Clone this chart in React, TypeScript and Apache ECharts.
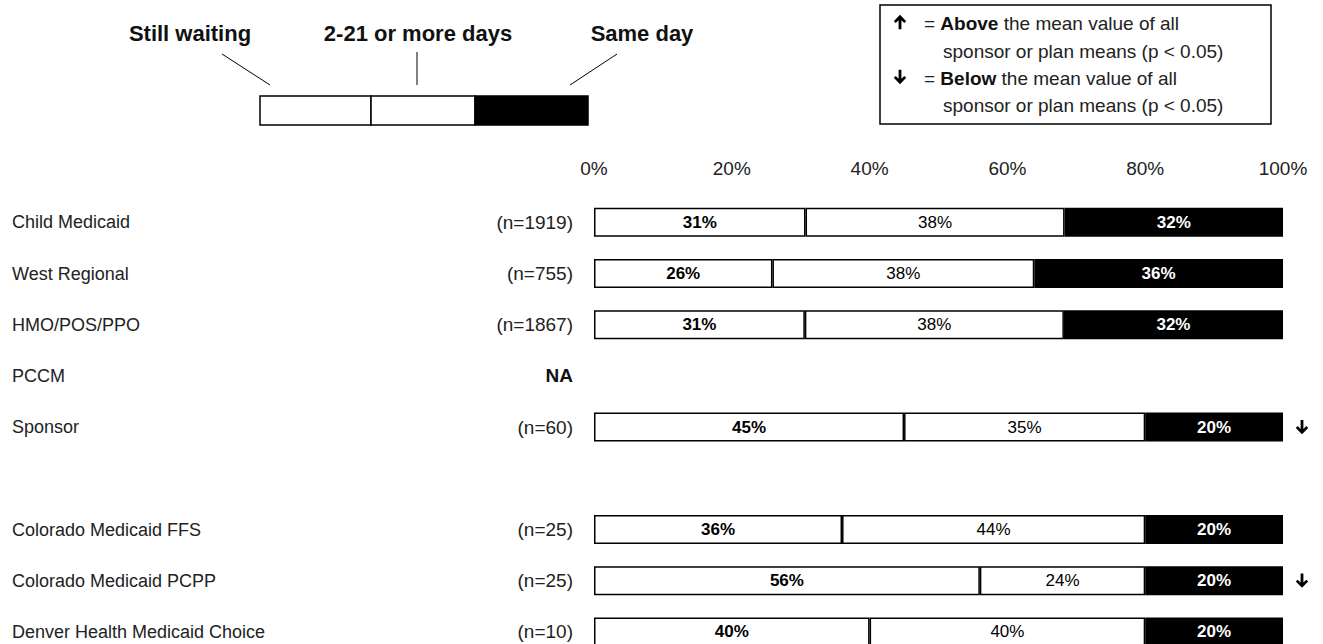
import React, { useEffect, useRef } from "react";
import * as echarts from "echarts";

const categories = [
  "Child Medicaid",
  "West Regional",
  "HMO/POS/PPO",
  "PCCM",
  "Sponsor",
  "",
  "Colorado Medicaid FFS",
  "Colorado Medicaid PCPP",
  "Denver Health Medicaid Choice",
];
const sampleSizes = ["(n=1919)", "(n=755)", "(n=1867)", "NA", "(n=60)", "", "(n=25)", "(n=25)", "(n=10)"];
const stillWaiting = [30.7, 25.9, 30.6, null, 45, null, 36, 56, 40];
const twoTo21Days = [37.6, 38.0, 37.6, null, 35, null, 44, 24, 40];
const sameDay = [31.7, 36.1, 31.8, null, 20, null, 20, 20, 20];
const significance = ["", "", "", "", "below", "", "", "below", ""];
const seriesNames = ["Still waiting", "2-21 or more days", "Same day"];
const xTickValues = [0, 20, 40, 60, 80, 100];

const FONT = "'Liberation Sans', Arial, sans-serif";

// heavy down arrow, 12 wide x 14.3 tall, origin at top-left
const ARROW_PATH = "M4.6 0 L7.4 0 L7.4 9 L10.3 6.1 L12.2 8 L6 14.3 L-0.2 8 L1.7 6.1 L4.6 9 Z";
let registered = false;

export default function App() {
  const ref = useRef<HTMLDivElement>(null);
  useEffect(() => {
    if (!ref.current) return;
    if (!registered) {
      echarts.graphic.registerShape("sigArrow", echarts.graphic.extendPath(ARROW_PATH, {}) as any);
      registered = true;
    }
    const chart = echarts.init(ref.current, null, { renderer: "svg" });
    const pct = (p: any) => (p.value == null ? "" : Math.round(p.value) + "%");
    const mkSeries = (name: string, data: any[], color: string, labelColor: string, weight: string) => ({
      name,
      type: "bar",
      stack: "total",
      data,
      barWidth: 29,
      xAxisIndex: 0,
      yAxisIndex: 0,
      itemStyle: { color, borderColor: "#000", borderWidth: 1.5 },
      label: {
        show: true,
        position: "inside",
        formatter: pct,
        color: labelColor,
        fontFamily: FONT,
        fontSize: 17,
        fontWeight: weight,
      },
    });
    const arrow = (cx: number, cy: number, up: boolean) => ({
      type: "sigArrow",
      x: cx - 6,
      y: up ? cy + 7.15 : cy - 7.15,
      scaleX: 1,
      scaleY: up ? -1 : 1,
      style: { fill: "#000", stroke: null },
    });
    const baseGraphics: any[] = [
      // top-left key
      { type: "text", style: { text: seriesNames[0], x: 190, y: 33, align: "center", verticalAlign: "middle", font: `bold 22px ${FONT}`, fill: "#111" } },
      { type: "text", style: { text: seriesNames[1], x: 418, y: 33, align: "center", verticalAlign: "middle", font: `bold 22px ${FONT}`, fill: "#111" } },
      { type: "text", style: { text: seriesNames[2], x: 642, y: 33, align: "center", verticalAlign: "middle", font: `bold 22px ${FONT}`, fill: "#111" } },
      { type: "line", shape: { x1: 222, y1: 54, x2: 270, y2: 85 }, style: { stroke: "#000", lineWidth: 1 } },
      { type: "line", shape: { x1: 417, y1: 52, x2: 417, y2: 85 }, style: { stroke: "#000", lineWidth: 1 } },
      { type: "line", shape: { x1: 617, y1: 54, x2: 570, y2: 85 }, style: { stroke: "#000", lineWidth: 1 } },
      { type: "rect", shape: { x: 260, y: 96, width: 111, height: 29 }, style: { fill: "#fff", stroke: "#000", lineWidth: 1.5 } },
      { type: "rect", shape: { x: 371, y: 96, width: 104, height: 29 }, style: { fill: "#fff", stroke: "#000", lineWidth: 1.5 } },
      { type: "rect", shape: { x: 475, y: 96, width: 113, height: 29 }, style: { fill: "#000", stroke: "#000", lineWidth: 1.5 } },
      // right significance box
      { type: "rect", shape: { x: 880, y: 5, width: 391, height: 119 }, style: { fill: "#fff", stroke: "#000", lineWidth: 1.5 } },
      arrow(900, 22, true),
      arrow(900, 77, false),
      {
        type: "text",
        style: {
          text: "= {b|Above} the mean value of all",
          x: 924, y: 23, verticalAlign: "middle", font: `19px ${FONT}`, fill: "#222",
          rich: { b: { fontWeight: "bold", fontSize: 19, fontFamily: FONT, fill: "#111" } },
        },
      },
      { type: "text", style: { text: "sponsor or plan means (p < 0.05)", x: 943, y: 51, verticalAlign: "middle", font: `19px ${FONT}`, fill: "#222" } },
      {
        type: "text",
        style: {
          text: "= {b|Below} the mean value of all",
          x: 924, y: 78, verticalAlign: "middle", font: `19px ${FONT}`, fill: "#222",
          rich: { b: { fontWeight: "bold", fontSize: 19, fontFamily: FONT, fill: "#111" } },
        },
      },
      { type: "text", style: { text: "sponsor or plan means (p < 0.05)", x: 943, y: 105, verticalAlign: "middle", font: `19px ${FONT}`, fill: "#222" } },
    ];
    chart.setOption({
      animation: false,
      backgroundColor: "#fff",
      grid: { left: 594, width: 689, top: 196.7, height: 460.8 },
      xAxis: {
        type: "value",
        position: "top",
        min: xTickValues[0],
        max: xTickValues[xTickValues.length - 1],
        interval: xTickValues[1] - xTickValues[0],
        axisLine: { show: false },
        axisTick: { show: false },
        splitLine: { show: false },
        axisLabel: {
          formatter: "{value}%",
          fontFamily: FONT,
          fontSize: 19,
          color: "#222",
          margin: 19,
        },
      },
      yAxis: [
        {
          type: "category",
          inverse: true,
          data: categories,
          axisLine: { show: false },
          axisTick: { show: false },
          axisLabel: {
            align: "left",
            margin: 582,
            fontFamily: FONT,
            fontSize: 18,
            color: "#222",
          },
        },
        {
          type: "category",
          inverse: true,
          data: categories,
          position: "left",
          axisLine: { show: false },
          axisTick: { show: false },
          axisLabel: {
            align: "right",
            margin: 21,
            fontFamily: FONT,
            fontSize: 19,
            color: "#222",
            formatter: (_v: string, i: number) =>
              sampleSizes[i] === "NA" ? "{b|NA}" : sampleSizes[i],
            rich: { b: { fontWeight: "bold", fontFamily: FONT, fontSize: 19, color: "#111" } },
          },
        },
      ],
      series: [
        mkSeries(seriesNames[0], stillWaiting, "#fff", "#000", "bold"),
        mkSeries(seriesNames[1], twoTo21Days, "#fff", "#000", "normal"),
        mkSeries(seriesNames[2], sameDay, "#000", "#fff", "bold"),
      ],
      graphic: baseGraphics,
    });
    // significance arrows placed through the axes' own scales
    const xEnd = chart.convertToPixel({ xAxisIndex: 0 }, xTickValues[xTickValues.length - 1]) as number;
    const sigArrows: any[] = [];
    significance.forEach((s, i) => {
      if (!s) return;
      const y = chart.convertToPixel({ yAxisIndex: 0 }, i) as number;
      sigArrows.push(arrow(xEnd + 19, y, s === "above"));
    });
    chart.setOption({ graphic: [...baseGraphics, ...sigArrows] });
    return () => chart.dispose();
  }, []);
  return (
    <div style={{ position: "absolute", left: 0, top: 0, width: 1323, height: 644, overflow: "hidden", background: "#fff" }}>
      <div ref={ref} style={{ width: 1323, height: 700 }} />
    </div>
  );
}
